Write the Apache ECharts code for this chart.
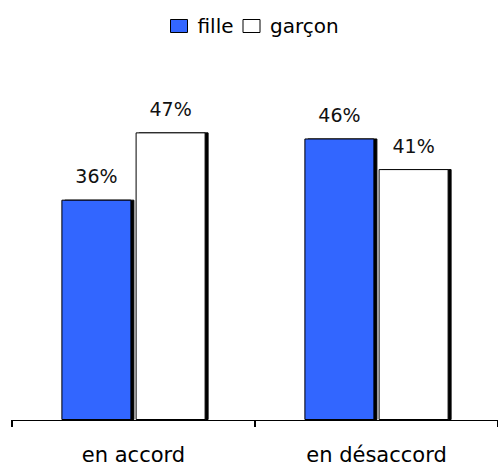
<!DOCTYPE html>
<html>
<head>
<meta charset="utf-8">
<script src="https://cdn.jsdelivr.net/npm/echarts@6/dist/echarts.min.js"></script>
<style>
  html, body { margin: 0; padding: 0; background: #fff; }
  #chart { width: 498px; height: 465px; }
</style>
</head>
<body>
<div id="chart"></div>
<script>
// Answers by group, in percent
const categories = ['en accord', 'en désaccord'];
const fille = [36, 46];
const garcon = [47, 41];

const FONT = '"DejaVu Sans", Verdana, sans-serif';

const barStyle = (fill) => ({
  color: fill,
  borderColor: '#000',
  borderWidth: 1,
  shadowColor: '#000',
  shadowBlur: 0,
  shadowOffsetX: 3,
  shadowOffsetY: 0
});

const label = {
  show: true,
  position: 'top',
  distance: 14,
  formatter: '{c}%',
  color: '#111',
  fontFamily: FONT,
  fontSize: 19
};

const legendIcon = (fill) => ({
  color: fill, borderColor: '#000', borderWidth: 1,
  shadowBlur: 0, shadowOffsetX: 0, shadowColor: 'transparent'
});

const chart = echarts.init(document.getElementById('chart'), null, { renderer: 'svg' });
chart.setOption({
  animation: false,
  backgroundColor: '#fff',
  legend: {
    top: 16,
    left: 170,
    padding: 0,
    itemWidth: 17,
    itemHeight: 13,
    itemGap: 9,
    textStyle: { fontFamily: FONT, fontSize: 20, color: '#000', padding: [0, 0, 0, 5] },
    data: [
      { name: 'fille', icon: 'rect', itemStyle: legendIcon('#3366ff') },
      { name: 'garçon', icon: 'rect', itemStyle: legendIcon('#fff') }
    ]
  },
  grid: { left: 12, right: -11, top: 114, bottom: 44, containLabel: false },
  xAxis: {
    type: 'category',
    data: categories,
    axisLine: { lineStyle: { color: '#000', width: 1 } },
    axisTick: { show: true, length: 7, lineStyle: { color: '#000', width: 2 } },
    axisLabel: { color: '#000', fontFamily: FONT, fontSize: 21, margin: 24 }
  },
  yAxis: {
    type: 'value',
    min: 0,
    max: 50,
    show: false
  },
  series: [
    {
      name: 'fille',
      type: 'bar',
      data: fille,
      barWidth: 70,
      barGap: '6%',
      itemStyle: barStyle('#3366ff'),
      label
    },
    {
      name: 'garçon',
      type: 'bar',
      data: garcon,
      barWidth: 70,
      barGap: '6%',
      itemStyle: barStyle('#fff'),
      label
    }
  ]
});
</script>
</body>
</html>
